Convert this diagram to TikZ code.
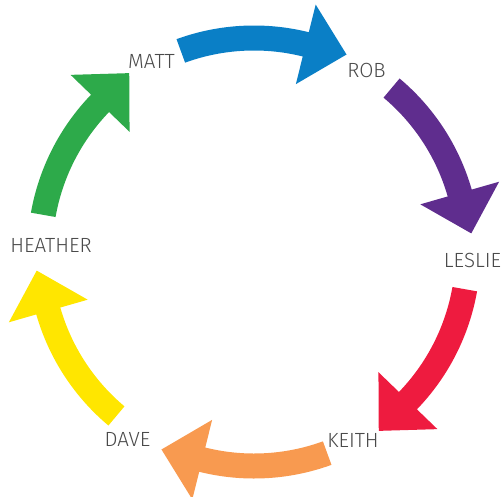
\documentclass[tikz,border=0pt]{standalone}
\usepackage{fontspec}
\setmainfont{Fira Sans Light}
\usetikzlibrary{calc}
\definecolor{agreen}{HTML}{2DAA4A}
\definecolor{ablue}{HTML}{0A7FC6}
\definecolor{apurple}{HTML}{5F2D8E}
\definecolor{ared}{HTML}{EE1B3F}
\definecolor{aorange}{HTML}{F89A50}
\definecolor{ayellow}{HTML}{FFE600}
\definecolor{labelgray}{HTML}{4A4A4A}
\tikzset{name label/.style={inner sep=0pt, text=labelgray, font=\fontsize{20.5}{20.5}\selectfont}}
\begin{document}
\begin{tikzpicture}[x=1pt,y=1pt]
\useasboundingbox (-254pt,-244pt) rectangle (249pt,252pt);
\foreach \a/\c in {170/agreen,110/ablue,50/apurple,-10/ared,-70/aorange,-130/ayellow}{
  \pgfmathsetmacro\ab{\a-34}
  \pgfmathsetmacro\at{\a-124}
  \fill[\c] (\a:226.5pt) arc[start angle=\a, end angle=\ab, radius=226.5pt]
    -- (\ab:255pt) -- ($(\ab:214pt)+(\at:42pt)$) -- (\ab:173pt) -- (\ab:201.5pt)
    arc[start angle=\ab, end angle=\a, radius=201.5pt] -- cycle;
}
\node[name label] (matt) at (-102.5,190.5) {MATT};
\node[name label] (rob) at (112.5,182) {ROB};
\node[name label] (leslie) at (218.5,-8) {LESLIE};
\node[name label] (keith) at (99,-188.5) {KEITH};
\node[name label] (dave) at (-126.5,-187) {DAVE};
\node[name label] (heather) at (-203,6.5) {HEATHER};
\end{tikzpicture}
\end{document}
